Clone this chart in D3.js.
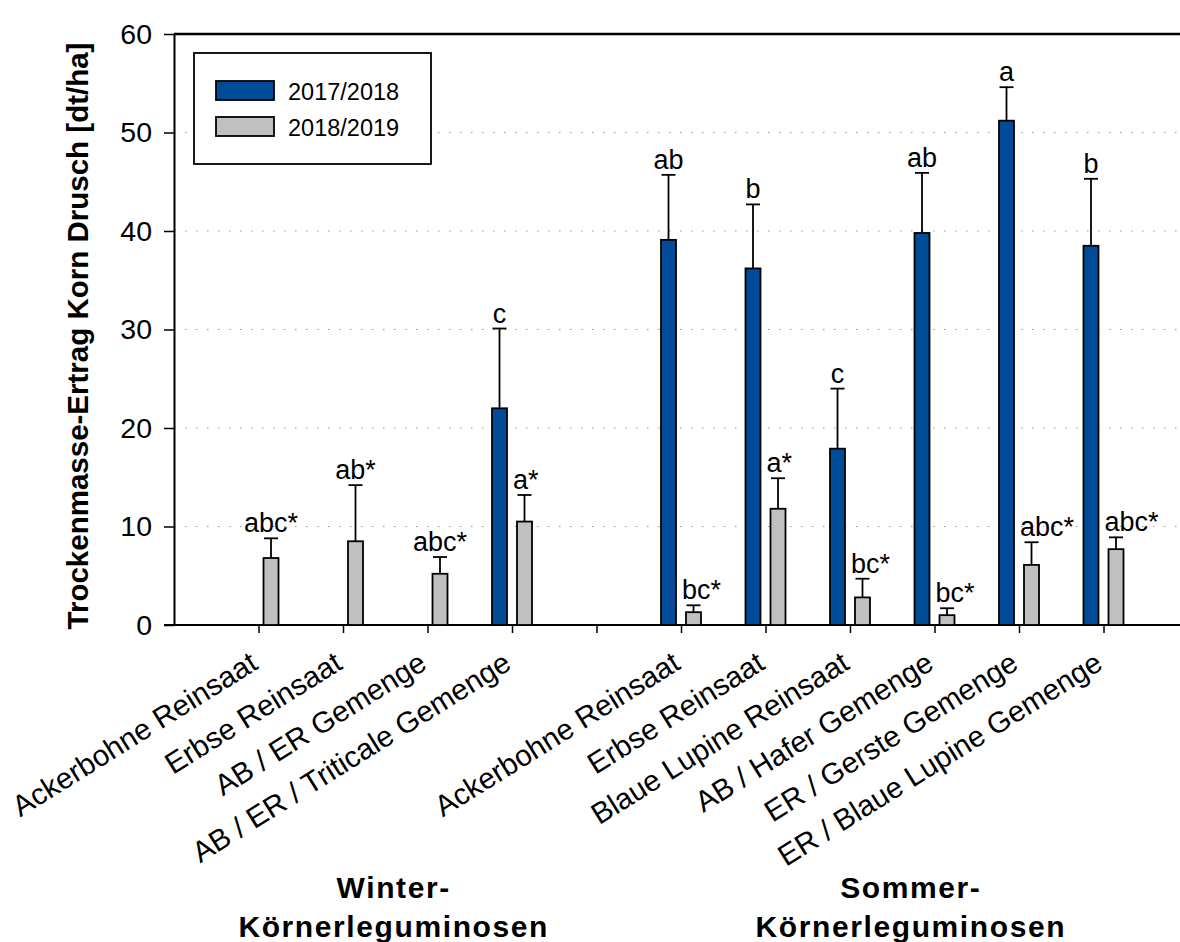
<!DOCTYPE html>
<html>
<head>
<meta charset="utf-8">
<script src="https://cdn.jsdelivr.net/npm/d3@7"></script>
<style>
  body { margin: 0; background: #fff; }
  svg { display: block; font-family: "Liberation Sans", Arial, sans-serif; }
</style>
</head>
<body>
<div id="chart"></div>
<script>
// slot 5 is the gap between winter and summer legumes
const categories = ['Ackerbohne Reinsaat', 'Erbse Reinsaat', 'AB / ER Gemenge', 'AB / ER / Triticale Gemenge', '',
    'Ackerbohne Reinsaat', 'Erbse Reinsaat', 'Blaue Lupine Reinsaat', 'AB / Hafer Gemenge', 'ER / Gerste Gemenge', 'ER / Blaue Lupine Gemenge'];

const values2017 = [null, null, null, 22.0, null, 39.1, 36.2, 17.9, 39.8, 51.2, 38.5];
const errors2017 = [null, null, null, 8.1, null, 6.6, 6.5, 6.1, 6.1, 3.4, 6.8];
const letters2017 = [null, null, null, 'c', null, 'ab', 'b', 'c', 'ab', 'a', 'b'];

const values2019 = [6.8, 8.5, 5.2, 10.5, null, 1.3, 11.8, 2.8, 1.0, 6.1, 7.7];
const errors2019 = [2.0, 5.7, 1.7, 2.7, null, 0.7, 3.1, 1.9, 0.7, 2.3, 1.2];
const letters2019 = ['abc*', 'ab*', 'abc*', 'a*', null, 'bc*', 'a*', 'bc*', 'bc*', 'abc*', 'abc*'];

const seriesNames = ['2017/2018', '2018/2019'];
const seriesColors = ['#004C99', '#C0C0C0'];
const yTicks = [0, 10, 20, 30, 40, 50, 60];
const groups = [['Winter-', 'Körnerleguminosen'], ['Sommer-', 'Körnerleguminosen']];

const width = 1180, height = 942;
const margin = {left: 174, bottom: 625, top: 34};

const svg = d3.select('#chart').append('svg')
    .attr('width', width)
    .attr('height', height);

const x = d3.scaleLinear().domain([0, 12]).range([margin.left, margin.left + 84.5 * 12]);
const y = d3.scaleLinear().domain([0, 60]).range([margin.bottom, margin.top]);

// dotted grid
svg.append('g')
    .selectAll('line')
    .data(yTicks.filter(d => d > 0 && d < 60))
    .enter().append('line')
    .attr('x1', margin.left).attr('x2', width)
    .attr('y1', d => y(d)).attr('y2', d => y(d))
    .attr('stroke', '#999')
    .attr('stroke-width', 1)
    .attr('stroke-dasharray', '1.5,9.5');

// y axis
const yAxis = svg.append('g')
    .attr('transform', 'translate(' + margin.left + ',0)')
    .call(d3.axisLeft(y).tickValues(yTicks).tickSize(10).tickPadding(12).tickSizeOuter(0));
yAxis.select('.domain').attr('stroke-width', 2);
yAxis.selectAll('.tick line').attr('stroke-width', 1.5);
yAxis.selectAll('text').attr('font-size', 28.5).attr('fill', '#000').attr('font-family', null);

// top frame line
svg.append('line')
    .attr('x1', margin.left).attr('x2', width)
    .attr('y1', y(60)).attr('y2', y(60))
    .attr('stroke', '#000').attr('stroke-width', 2.5);

// x axis
const xAxis = svg.append('g')
    .attr('transform', 'translate(0,' + margin.bottom + ')')
    .call(d3.axisBottom(x).tickValues(d3.range(1, 12)).tickSize(8).tickSizeOuter(0).tickFormat(''));
xAxis.select('.domain').attr('d', 'M' + (margin.left - 10) + ',0H' + width).attr('stroke-width', 2);
xAxis.selectAll('.tick line').attr('stroke-width', 1.5);

// category labels
svg.append('g')
    .selectAll('text')
    .data(categories)
    .enter().append('text')
    .attr('transform', (d, i) => 'translate(' + (x(i + 1) + 1) + ',' + (margin.bottom + 43) + ') rotate(-32)')
    .attr('text-anchor', 'end')
    .attr('font-size', 29.5)
    .text(d => d);

const barW = 15, offset = 12.5, capW = 14;

function drawSeries(values, errors, letters, color, dx, other) {
    const g = svg.append('g');
    const idx = d3.range(values.length).filter(i => values[i] !== null);

    g.selectAll('line.err')
        .data(idx)
        .enter().append('line')
        .attr('class', 'err')
        .attr('x1', i => x(i + 1) + dx).attr('x2', i => x(i + 1) + dx)
        .attr('y1', i => y(values[i])).attr('y2', i => y(values[i] + errors[i]))
        .attr('stroke', '#000').attr('stroke-width', 1.8);

    g.selectAll('line.cap')
        .data(idx)
        .enter().append('line')
        .attr('class', 'cap')
        .attr('x1', i => x(i + 1) + dx - capW / 2).attr('x2', i => x(i + 1) + dx + capW / 2)
        .attr('y1', i => y(values[i] + errors[i])).attr('y2', i => y(values[i] + errors[i]))
        .attr('stroke', '#000').attr('stroke-width', 1.8);

    g.selectAll('rect')
        .data(idx)
        .enter().append('rect')
        .attr('x', i => x(i + 1) + dx - barW / 2)
        .attr('y', i => y(values[i]))
        .attr('width', barW)
        .attr('height', i => y(0) - y(values[i]))
        .attr('fill', color)
        .attr('stroke', '#000')
        .attr('stroke-width', 1.8);

    const labels = g.selectAll('text')
        .data(idx)
        .enter().append('text')
        .attr('x', i => x(i + 1) + dx)
        .attr('y', i => y(values[i] + errors[i]) - 6)
        .attr('text-anchor', 'middle')
        .attr('font-size', 27)
        .text(i => letters[i]);

    // push a label clear of the taller bar standing to its left
    if (other) {
        labels.each(function(i) {
            if (other[i] === null || y(other[i]) > y(values[i] + errors[i]) - 30) return;
            const w = this.getComputedTextLength();
            const minLeft = x(i + 1) - offset + barW / 2 + 6;
            const cx = x(i + 1) + dx;
            if (cx - w / 2 < minLeft) d3.select(this).attr('x', minLeft + w / 2);
        });
    }
}

drawSeries(values2017, errors2017, letters2017, seriesColors[0], -offset, null);
drawSeries(values2019, errors2019, letters2019, seriesColors[1], offset, values2017);

// legend
const legend = svg.append('g');
legend.append('rect')
    .attr('x', 194).attr('y', 53).attr('width', 237).attr('height', 111)
    .attr('fill', '#fff').attr('stroke', '#000').attr('stroke-width', 1.8);
seriesNames.forEach((name, i) => {
    legend.append('rect')
        .attr('x', 216).attr('y', 81 + i * 36).attr('width', 58).attr('height', 19)
        .attr('fill', seriesColors[i]).attr('stroke', '#000').attr('stroke-width', 1.8);
    legend.append('text')
        .attr('x', 288).attr('y', 100 + i * 35.5)
        .attr('font-size', 23.5)
        .text(name);
});

// y title
svg.append('text')
    .attr('transform', 'translate(88,' + 336 + ') rotate(-90)')
    .attr('text-anchor', 'middle')
    .attr('font-size', 29.5)
    .attr('font-weight', 'bold')
    .text('Trockenmasse-Ertrag Korn Drusch [dt/ha]');

// group titles
const groupX = [2.6, 8.72];
groups.forEach((lines, k) => {
    lines.forEach((t, j) => {
        svg.append('text')
            .attr('x', x(groupX[k]))
            .attr('y', 898 + j * 39)
            .attr('text-anchor', 'middle')
            .attr('font-size', 30)
            .attr('font-weight', 'bold')
            .attr('letter-spacing', 1.6)
            .text(t);
    });
});
</script>
</body>
</html>
